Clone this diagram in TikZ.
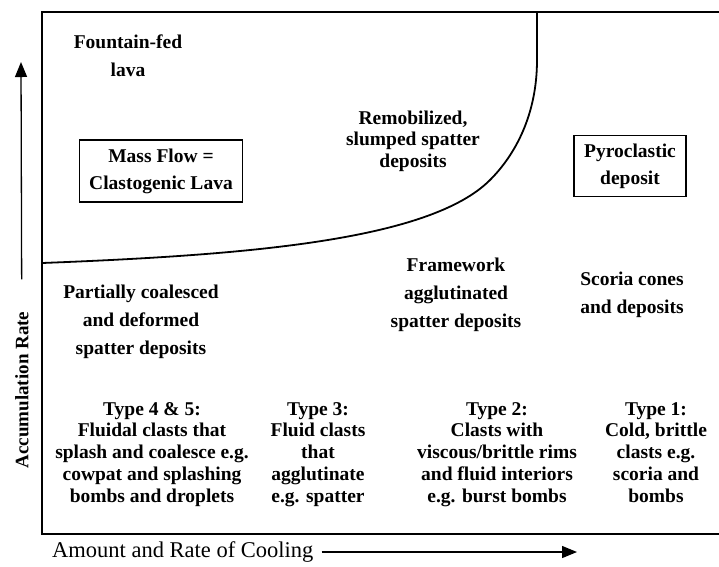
\documentclass[tikz,border=0pt]{standalone}
\usepackage{fontspec}
\setmainfont{Liberation Serif}
\usetikzlibrary{arrows.meta}

\begin{document}
\begin{tikzpicture}[
  x=1pt, y=-1pt,
  region/.style={align=center, inner sep=0pt,
                 font=\fontsize{19.5}{28}\selectfont\bfseries},
  clast/.style={align=center, inner sep=0pt, anchor=north,
                font=\fontsize{19.5}{21.8}\selectfont\bfseries},
  deposit/.style={draw, line width=1.3pt, align=center, inner sep=0pt,
                  font=\fontsize{19.5}{27}\selectfont\bfseries},
  axislabel/.style={inner sep=0pt},
  arr/.style={-{Triangle[length=15pt, width=12pt]}, line width=1.3pt},
  boundary/.style={line width=1.8pt},
]
\useasboundingbox (0,0) rectangle (719,566);

% Frame
\draw[boundary] (719,12) -- (42,12) -- (42,534) -- (719,534);

% Boundary between mass flow and deposits
\draw[boundary] (42,263) .. controls (250,255) and (430,240) .. (490,180)
  .. controls (515,155) and (537,115) .. (537,60) -- (537,12);

% Upper field
\node[region] (fountain) at (128,56) {Fountain-fed\\lava};
\node[deposit, minimum width=163pt, minimum height=62pt] (massflow) at (161,171)
  {Mass Flow =\\Clastogenic Lava};
\node[region, font=\fontsize{19.5}{21.5}\selectfont\bfseries] (remob) at (413,141)
  {Remobilized,\\slumped spatter\\deposits};
\node[deposit, minimum width=112pt, minimum height=61pt] (pyro) at (630,166)
  {Pyroclastic\\deposit};

% Lower field
\node[region] (partial) at (141,322) {Partially coalesced\\and deformed\\spatter deposits};
\node[region] (framework) at (456,295) {Framework\\agglutinated\\spatter deposits};
\node[region] (scoria) at (632,295) {Scoria cones\\and deposits};

% Clast types
\node[clast] (type45) at (152,402)
  {Type 4 \& 5:\\Fluidal clasts that\\splash and coalesce e.g.\\cowpat and splashing\\bombs and droplets};
\node[clast] (type3) at (318,402) {Type 3:\\Fluid clasts\\that\\agglutinate\\e.g. spatter};
\node[clast] (type2) at (497,402)
  {Type 2:\\Clasts with\\viscous/brittle rims\\and fluid interiors\\e.g. burst bombs};
\node[clast] (type1) at (656,402) {Type 1:\\Cold, brittle\\clasts e.g.\\scoria and\\bombs};

% Axes
\node[axislabel, rotate=90, font=\fontsize{19}{22}\selectfont\bfseries] (ylab) at (22,390)
  {Accumulation Rate};
\node[axislabel, anchor=west, font=\fontsize{22.5}{26}\selectfont] (xlab) at (52,552)
  {Amount and Rate of Cooling};
\coordinate (ytip) at (21,62);
\coordinate (xtip) at (577,552);
\draw[arr, shorten <=32pt] (ylab) -- (ytip);
\draw[arr, shorten <=8pt] (xlab) -- (xtip);

\end{tikzpicture}
\end{document}
